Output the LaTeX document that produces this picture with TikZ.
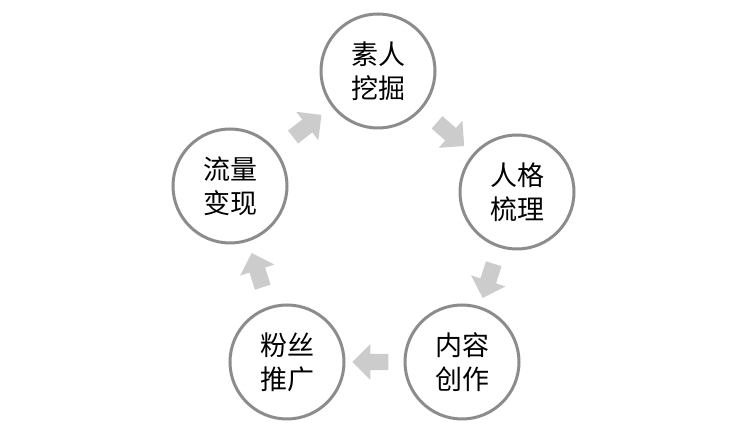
\documentclass[tikz,border=0pt]{standalone}
\usepackage{fontspec}
\newfontfamily\cjk{Noto Sans CJK SC}
\usetikzlibrary{shapes.arrows,calc}
\begin{document}
\begin{tikzpicture}[x=1pt,y=-1pt,
 circ/.style={circle,draw=gray!90,line width=3pt,fill=white,minimum size=114pt,inner sep=0pt,align=center,font=\cjk\fontsize{27}{34}\selectfont},
 blk/.style={single arrow,fill=gray!40,draw=none,minimum height=36pt,minimum width=36pt,single arrow head extend=5pt,inner sep=4pt}]
\useasboundingbox (0,0) rectangle (732,427);
\node[circ] (a) at (378,71) {素人\\挖掘};
\node[circ] (b) at (517,192) {人格\\梳理};
\node[circ] (c) at (462,362) {内容\\创作};
\node[circ] (d) at (287,362) {粉丝\\推广};
\node[circ] (e) at (230,186) {流量\\变现};
\foreach \s/\t in {a/b,b/c,c/d,d/e,e/a}{
 \path let \p1=(\s), \p2=(\t), \n1={atan2(\y2-\y1,\x2-\x1)} in
  node[blk,rotate=\n1] at ($(\s)!0.5!(\t)$) {};
}
\end{tikzpicture}
\end{document}
